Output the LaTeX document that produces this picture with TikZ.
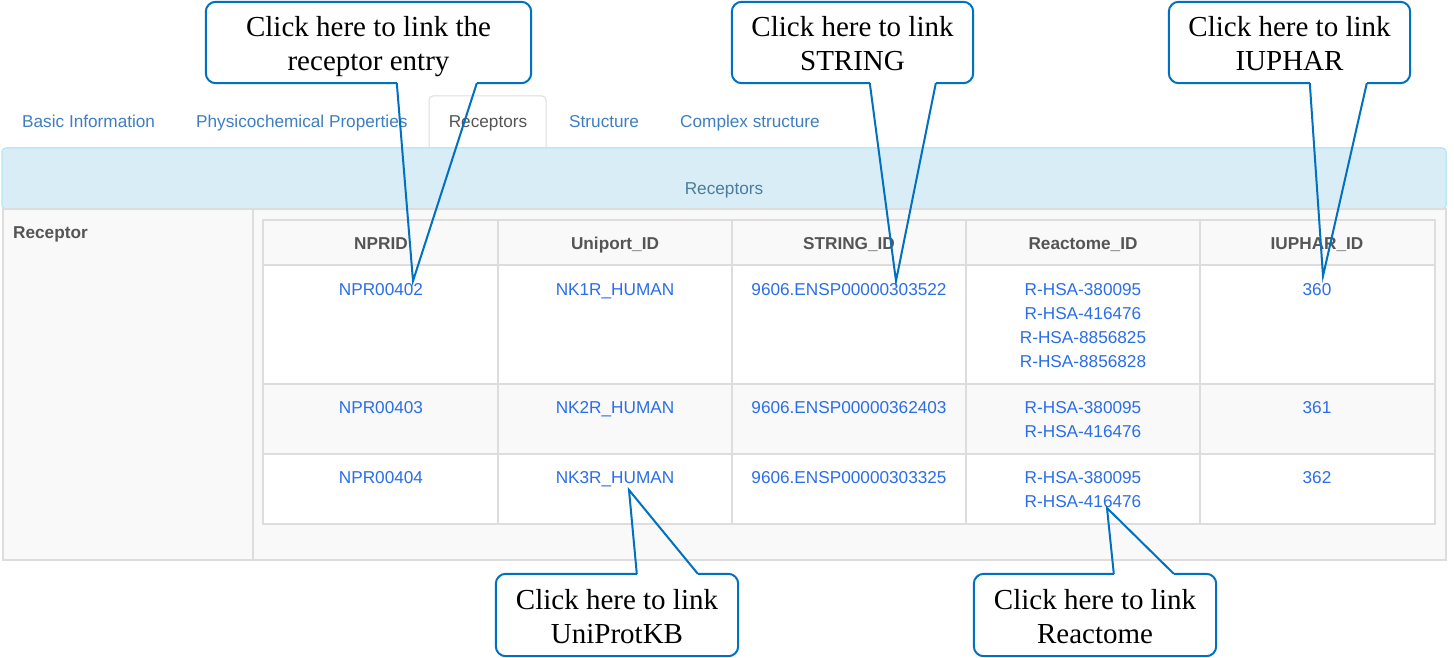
\documentclass[tikz,border=0pt]{standalone}
\usepackage{fontspec}
\setmainfont{Liberation Serif}
\setsansfont{Liberation Sans}
\usetikzlibrary{calc}
\definecolor{tabblue}{HTML}{3F7FC1}
\definecolor{linkblue}{HTML}{2B6EEA}
\definecolor{headgray}{HTML}{555555}
\definecolor{gridgray}{HTML}{DDDDDD}
\definecolor{rowgray}{HTML}{F9F9F9}
\definecolor{infofill}{HTML}{D9EDF7}
\definecolor{infoline}{HTML}{BCE8F1}
\definecolor{infotext}{HTML}{4A7D9B}
\definecolor{callblue}{HTML}{0070C0}
\newcommand{\topstrut}{\rule{0pt}{30pt}}
\newcommand{\botstrut}{\rule[-8pt]{0pt}{8pt}}
\tikzset{
  webtext/.style={font=\sffamily\fontsize{17.2}{20}\selectfont, inner sep=0pt, anchor=base},
  tabtext/.style={webtext, text=tabblue, anchor=base west},
  headtext/.style={webtext, font=\sffamily\bfseries\fontsize{17.2}{20}\selectfont, text=headgray},
  linktext/.style={webtext, text=linkblue},
  gridline/.style={draw=gridgray, line width=1.5pt},
  callbox/.style={inner sep=0pt, minimum height=81pt, align=center, font=\fontsize{29}{34}\selectfont},
  callline/.style={draw=callblue, line width=2pt},
}
\begin{document}
\begin{tikzpicture}[x=1pt,y=-1pt]
\useasboundingbox (0,0) rectangle (1454,658);
\fill[white] (0,0) rectangle (1454,658);

% tabs
\draw[gridline, line width=1pt, fill=white, rounded corners=4] (429,148) -- (429,96) -- (546,96) -- (546,148);
\node[tabtext] (tabBasic) at (22,128) {Basic Information};
\node[tabtext] (tabPhys) at (196,128) {Physicochemical Properties};
\node[webtext, text=headgray] (tabRec) at (488,128) {Receptors};
\node[tabtext] (tabStruct) at (569,128) {Structure};
\node[tabtext] (tabComplex) at (680,128) {Complex structure};

% panel heading and body
\draw[draw=infoline, fill=infofill, line width=1.5pt, rounded corners=4] (2,148) rectangle (1446,209);
\node[webtext, text=infotext] (panelTitle) at (724,194) {Receptors};
\draw[gridline, fill=rowgray] (3,209) rectangle (1446,560);
\draw[gridline] (253,209) -- (253,560);
\node[headtext, anchor=base west] (recLabel) at (13,238) {Receptor};

% table
\fill[rowgray] (263,220) rectangle (1435,265);
\fill[white] (263,265) rectangle (1435,384);
\fill[rowgray] (263,384) rectangle (1435,454);
\fill[white] (263,454) rectangle (1435,524);
\draw[gridline] (263,220) rectangle (1435,524);
\draw[gridline] (263,265) -- (1435,265);
\draw[gridline] (263,384) -- (1435,384);
\draw[gridline] (263,454) -- (1435,454);
\draw[gridline] (498,220) -- (498,524);
\draw[gridline] (732,220) -- (732,524);
\draw[gridline] (966,220) -- (966,524);
\draw[gridline] (1200,220) -- (1200,524);

\node[headtext] (hNpr) at (381,249) {NPRID};
\node[headtext] (hUni) at (615,249) {Uniport\_ID};
\node[headtext] (hStr) at (849,249) {STRING\_ID};
\node[headtext] (hRea) at (1083,249) {Reactome\_ID};
\node[headtext] (hIup) at (1317,249) {IUPHAR\_ID};

% row 1
\node[linktext] (npr1) at (381,295) {NPR00402};
\node[linktext] (uni1) at (615,295) {NK1R\_HUMAN};
\node[linktext] (str1) at (849,295) {9606.ENSP00000303522};
\node[linktext] (rea1a) at (1083,295) {R-HSA-380095};
\node[linktext] (rea1b) at (1083,319) {R-HSA-416476};
\node[linktext] (rea1c) at (1083,343) {R-HSA-8856825};
\node[linktext] (rea1d) at (1083,367) {R-HSA-8856828};
\node[linktext] (iup1) at (1317,295) {360};

% row 2
\node[linktext] (npr2) at (381,413) {NPR00403};
\node[linktext] (uni2) at (615,413) {NK2R\_HUMAN};
\node[linktext] (str2) at (849,413) {9606.ENSP00000362403};
\node[linktext] (rea2a) at (1083,413) {R-HSA-380095};
\node[linktext] (rea2b) at (1083,437) {R-HSA-416476};
\node[linktext] (iup2) at (1317,413) {361};

% row 3
\node[linktext] (npr3) at (381,483) {NPR00404};
\node[linktext] (uni3) at (615,483) {NK3R\_HUMAN};
\node[linktext] (str3) at (849,483) {9606.ENSP00000303325};
\node[linktext] (rea3a) at (1083,483) {R-HSA-380095};
\node[linktext] (rea3b) at (1083,507) {R-HSA-416476};
\node[linktext] (iup3) at (1317,483) {362};

% callouts
\node[callbox, minimum width=325pt] (cEntry) at (368.5,42.5) {\topstrut Click here to link the\\receptor entry\botstrut};
\coordinate (tipEntry) at (413,281);
\draw[callline, rounded corners=10] ($(cEntry.south west)+(191,0)$) -- (cEntry.south west) -- (cEntry.north west) -- (cEntry.north east) -- (cEntry.south east) -- ($(cEntry.south west)+(271,0)$);
\draw[callline] ($(cEntry.south west)+(191,0)$) -- (tipEntry) -- ($(cEntry.south west)+(271,0)$);

\node[callbox, minimum width=241pt] (cString) at (852.5,42.5) {\topstrut Click here to link\\STRING\botstrut};
\coordinate (tipString) at (896,281);
\draw[callline, rounded corners=10] ($(cString.south west)+(138,0)$) -- (cString.south west) -- (cString.north west) -- (cString.north east) -- (cString.south east) -- ($(cString.south west)+(204,0)$);
\draw[callline] ($(cString.south west)+(138,0)$) -- (tipString) -- ($(cString.south west)+(204,0)$);

\node[callbox, minimum width=241pt] (cIuphar) at (1289.5,42.5) {\topstrut Click here to link\\IUPHAR\botstrut};
\coordinate (tipIuphar) at (1323,276);
\draw[callline, rounded corners=10] ($(cIuphar.south west)+(141,0)$) -- (cIuphar.south west) -- (cIuphar.north west) -- (cIuphar.north east) -- (cIuphar.south east) -- ($(cIuphar.south west)+(198,0)$);
\draw[callline] ($(cIuphar.south west)+(141,0)$) -- (tipIuphar) -- ($(cIuphar.south west)+(198,0)$);

\node[callbox, minimum width=242pt, minimum height=82pt] (cUniprot) at (617,615) {\topstrut Click here to link\\UniProtKB\botstrut};
\coordinate (tipUniprot) at (629,490);
\draw[callline, rounded corners=10] ($(cUniprot.north west)+(141,0)$) -- (cUniprot.north west) -- (cUniprot.south west) -- (cUniprot.south east) -- (cUniprot.north east) -- ($(cUniprot.north west)+(202,0)$);
\draw[callline] ($(cUniprot.north west)+(141,0)$) -- (tipUniprot) -- ($(cUniprot.north west)+(202,0)$);

\node[callbox, minimum width=242pt, minimum height=82pt] (cReactome) at (1095,615) {\topstrut Click here to link\\Reactome\botstrut};
\coordinate (tipReactome) at (1107,508);
\draw[callline, rounded corners=10] ($(cReactome.north west)+(140,0)$) -- (cReactome.north west) -- (cReactome.south west) -- (cReactome.south east) -- (cReactome.north east) -- ($(cReactome.north west)+(200,0)$);
\draw[callline] ($(cReactome.north west)+(140,0)$) -- (tipReactome) -- ($(cReactome.north west)+(200,0)$);
\end{tikzpicture}
\end{document}
